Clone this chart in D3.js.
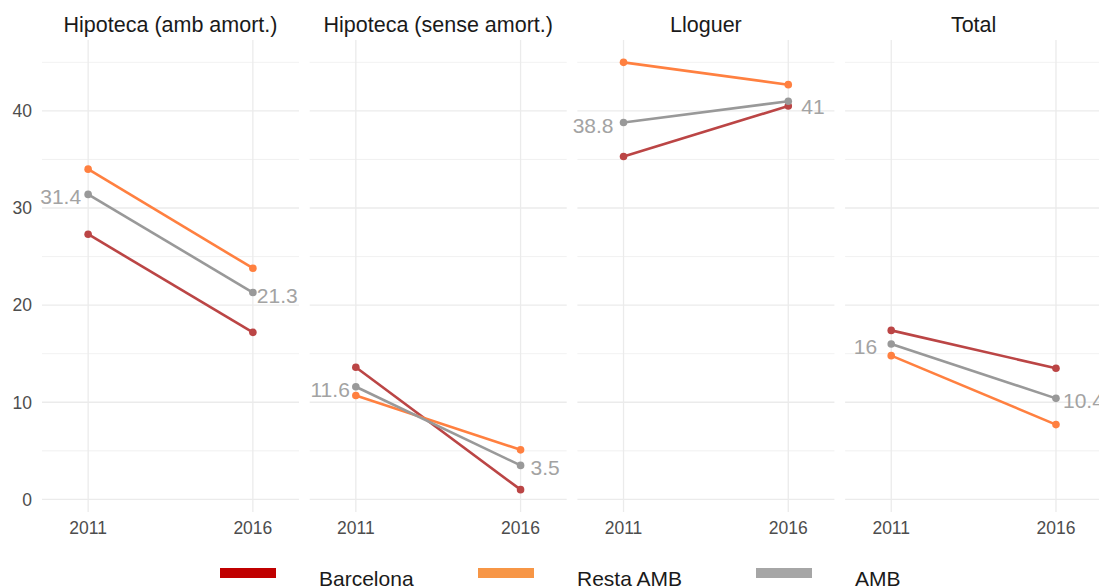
<!DOCTYPE html>
<html>
<head>
<meta charset="utf-8">
<script src="https://cdn.jsdelivr.net/npm/d3@7"></script>
<style>
  body { margin: 0; background: #fff; }
  svg { display: block; font-family: "Liberation Sans", Arial, sans-serif; }
</style>
</head>
<body>
<svg id="chart" width="1099" height="586"></svg>
<script>
// panels (facets) and years
var panels = ["Hipoteca (amb amort.)", "Hipoteca (sense amort.)", "Lloguer", "Total"];
var years = [2011, 2016];
var seriesNames = ["Barcelona", "Resta AMB", "AMB"];

// values per panel: [2011, 2016]
var barcelona = [[27.3, 17.2], [13.6, 1.0], [35.3, 40.5], [17.4, 13.5]];
var restaAMB  = [[34.0, 23.8], [10.7, 5.1], [45.0, 42.7], [14.8, 7.7]];
var amb       = [[31.4, 21.3], [11.6, 3.5], [38.8, 41.0], [16.0, 10.4]];

var yTicks = [0, 10, 20, 30, 40];
var yMinor = [5, 15, 25, 35, 45];

var lineColors = { "Barcelona": "#bb4545", "Resta AMB": "#ff8040", "AMB": "#999999" };
var legendColors = { "Barcelona": "#c00000", "Resta AMB": "#f79646", "AMB": "#a6a6a6" };
var seriesData = { "Barcelona": barcelona, "Resta AMB": restaAMB, "AMB": amb };

// repel-style gaps for the AMB labels (px), per panel
var gapLeft = [7, 6, 10, 14];
var gapRight = [4, 10, 13, 7];
var shiftRight = [0, 0, 3, 0];

var svg = d3.select("#chart");

var panelLeft = 42, panelW = 257, panelStep = 267.7;
var plotTop = 40, plotBottom = 512;

var y = d3.scaleLinear().domain([-1.3, 47.3]).range([plotBottom, plotTop]);
var x = d3.scaleLinear().domain([2011 - 1.4, 2016 + 1.4]).range([0, panelW]);

panels.forEach(function (name, p) {
  var g = svg.append("g").attr("transform", "translate(" + (panelLeft + p * panelStep) + ",0)");

  // grid
  g.selectAll(".minor").data(yMinor).enter().append("line")
    .attr("x1", 0).attr("x2", panelW)
    .attr("y1", function (d) { return y(d); }).attr("y2", function (d) { return y(d); })
    .attr("stroke", "#ededed").attr("stroke-width", 0.8);
  g.selectAll(".major").data(yTicks).enter().append("line")
    .attr("x1", 0).attr("x2", panelW)
    .attr("y1", function (d) { return y(d); }).attr("y2", function (d) { return y(d); })
    .attr("stroke", "#ebebeb").attr("stroke-width", 1.3);
  g.selectAll(".vgrid").data(years).enter().append("line")
    .attr("x1", function (d) { return x(d); }).attr("x2", function (d) { return x(d); })
    .attr("y1", plotTop).attr("y2", plotBottom)
    .attr("stroke", "#ebebeb").attr("stroke-width", 1.3);

  // title
  g.append("text")
    .attr("x", panelW / 2).attr("y", 32)
    .attr("text-anchor", "middle")
    .attr("font-size", 21.5).attr("fill", "#1a1a1a")
    .text(name);

  // x tick labels
  g.selectAll(".xt").data(years).enter().append("text")
    .attr("x", function (d) { return x(d); }).attr("y", 534)
    .attr("text-anchor", "middle")
    .attr("font-size", 17.5).attr("fill", "#4d4d4d")
    .text(function (d) { return d; });

  // lines and points
  seriesNames.forEach(function (s) {
    var vals = seriesData[s][p];
    var pts = years.map(function (yr, i) { return [yr, vals[i]]; });
    g.append("path")
      .datum(pts)
      .attr("fill", "none")
      .attr("stroke", lineColors[s])
      .attr("stroke-width", 2.6)
      .attr("d", d3.line().x(function (d) { return x(d[0]); }).y(function (d) { return y(d[1]); }));
    g.selectAll(null).data(pts).enter().append("circle")
      .attr("cx", function (d) { return x(d[0]); })
      .attr("cy", function (d) { return y(d[1]); })
      .attr("r", 3.8)
      .attr("fill", lineColors[s]);
  });

  // AMB labels
  var av = amb[p];
  g.append("text")
    .attr("x", x(2011) - gapLeft[p]).attr("y", y(av[0]))
    .attr("dy", "0.48em").attr("text-anchor", "end")
    .attr("font-size", 21).attr("fill", "#a3a3a3")
    .text(d3.format("")(av[0]));
  g.append("text")
    .attr("x", x(2016) + gapRight[p]).attr("y", y(av[1]) + shiftRight[p])
    .attr("dy", "0.48em").attr("text-anchor", "start")
    .attr("font-size", 21).attr("fill", "#a3a3a3")
    .text(d3.format("")(av[1]));
});

// y axis labels (left of first panel only)
svg.selectAll(".yt").data(yTicks).enter().append("text")
  .attr("x", 32).attr("y", function (d) { return y(d); })
  .attr("dy", "0.36em").attr("text-anchor", "end")
  .attr("font-size", 17.5).attr("fill", "#4d4d4d")
  .text(function (d) { return d; });

// legend
var legendX = [220, 478, 756];
seriesNames.forEach(function (s, i) {
  svg.append("rect")
    .attr("x", legendX[i]).attr("y", 568)
    .attr("width", 56).attr("height", 10)
    .attr("fill", legendColors[s]);
  svg.append("text")
    .attr("x", legendX[i] + 99).attr("y", 586)
    .attr("font-size", 21).attr("fill", "#1a1a1a")
    .text(s);
});
</script>
</body>
</html>
